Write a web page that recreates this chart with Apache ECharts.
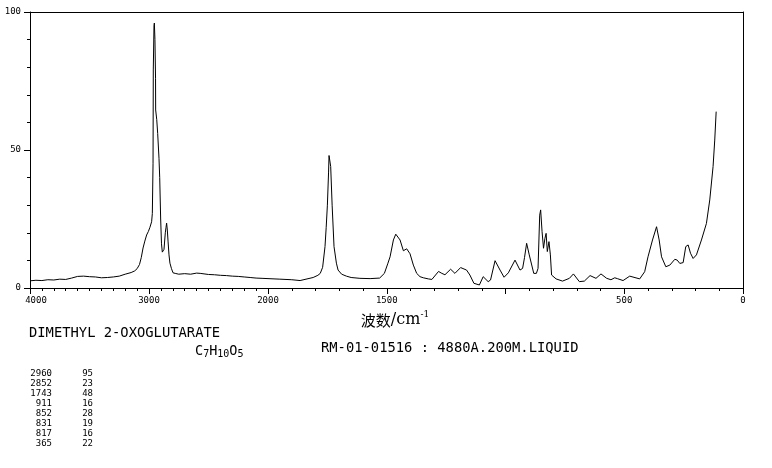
<!DOCTYPE html>
<html>
<head>
<meta charset="utf-8">
<script src="https://cdn.jsdelivr.net/npm/echarts@6/dist/echarts.min.js"></script>
<style>
html,body{margin:0;padding:0;background:#fff;}
#chart{width:772px;height:468px;}
</style>
</head>
<body>
<div id="chart"></div>
<script>
// ---- data ----
const wavenumbers = [
  4000,3950,3900,3850,3800,3750,3700,3650,3600,3550,3500,3450,3400,3350,3300,3250,3200,3150,3120,3100,
  3080,3065,3050,3035,3020,3005,2992,2978,2972,2966,2964,2958,2955,2950,2945,2944,2935,2927,2916,2910,
  2902,2895,2888,2882,2874,2863,2857,2852,2846,2840,2832,2824,2811,2798,2780,2750,2700,2650,2600,2570,
  2500,2450,2400,2350,2300,2250,2200,2150,2100,2050,2000,
  1950,1900,1865,1840,1810,1790,1780,1770,1760,1755,1750,1745,1743,1740,1736,1730,1722,1712,1705,1690,
  1670,1650,1613,1570,1530,1510,1495,1486,1472,1462,1458,1444,1430,1416,1402,1388,1374,1360,1346,1325,
  1310,1282,1268,1255,1231,1213,1189,1164,1150,1133,1110,1094,1073,1063,1044,1023,1006,988,960,939,
  928,920,911,900,895,881,870,863,856,852,846,840,834,829,824,817,811,806,787,760,
  731,714,689,668,644,619,598,574,556,540,529,505,477,435,414,400,381,364,353,343,
  325,308,287,277,266,252,241,231,221,210,196,175,154,140,126,119,113
];
const intensities = [
  2.6,2.8,2.7,3.0,2.9,3.2,3.1,3.6,4.2,4.3,4.1,4.0,3.7,3.8,4.0,4.3,5.0,5.6,6.2,7.0,
  8.5,11,14.5,17,19.2,20.5,22,24,27,45,79,95,96,90,76,64.5,61,56,47,40,
  25,16,13,12.5,14,20,22,23.5,21,17,12,9,7,5.5,5.3,5.0,5.2,5.0,5.4,5.3,
  4.9,4.8,4.6,4.5,4.3,4.2,4.0,3.8,3.6,3.5,3.4,
  3.2,3.0,2.7,3.2,3.8,4.6,5.3,7.5,15,22,30,42,48,48,44,30,15,9,6.5,5.0,
  4.3,3.8,3.5,3.4,3.6,5.3,9,11.3,17.4,19.5,19.2,17.4,13.5,14.2,12.4,8.3,5.3,4.1,3.7,3.3,
  3.1,6.0,5.3,4.8,6.8,5.3,7.4,6.5,4.7,1.7,1.1,4.1,2.3,2.9,9.9,6.5,3.9,5.5,10.1,6.5,
  7.1,11,16.2,12,11.5,5.3,5.3,7.1,26.4,28.3,20.4,14.4,18,19.8,13.2,16.8,12,4.7,3.3,2.5,
  3.5,5.1,2.3,2.5,4.5,3.5,5.1,3.5,3.0,3.7,3.4,2.7,4.3,3.3,5.9,11.3,17.4,22.2,17.4,11.3,
  7.7,8.3,10.4,10.1,8.9,9.2,15,15.6,12.6,10.7,12,17.4,23.4,31.9,44,53.6,63.9
];
const xLabelsHigh = [4000, 3000];
const xLabelsLow = [2000, 1500, 500, 0];
const yLabels = [0, 50, 100];
const compoundName = 'DIMETHYL 2-OXOGLUTARATE';
const sampleInfo = 'RM-01-01516 : 4880A.200M.LIQUID';
const peakWavenumbers = ['2960','2852','1743','911','852','831','817','365'];
const peakIntensities = ['95','23','48','16','28','19','16','22'];

// ---- build series ----
const pairs = wavenumbers.map((w, i) => [w, intensities[i]]);
const highPart = pairs.filter(p => p[0] >= 2000);
const lowPart = pairs.filter(p => p[0] <= 2000);

const labelFont = {fontFamily: 'DejaVu Sans Mono', fontSize: 9, color: '#000'};
const lineStyle = {color: '#000', width: 1};

function xAxisCfg(gridIndex, min, max, interval, minorSplit, labels) {
  return {
    type: 'value', gridIndex, min, max, interval, inverse: true, position: 'bottom',
    axisLine: {show: true, onZero: false, lineStyle},
    axisTick: {show: true, length: 6, lineStyle},
    minorTick: {show: true, splitNumber: minorSplit, length: 3, lineStyle},
    splitLine: {show: false},
    axisLabel: Object.assign({margin: 8, showMinLabel: true, showMaxLabel: true,
      formatter: v => {
        if (!labels.includes(v)) return '';
        return v === 4000 ? '{f|' + v + '}' : String(v);
      },
      rich: {f: {fontFamily: 'DejaVu Sans Mono', fontSize: 9, color: '#000', padding: [0, 0, 0, 12]}}
    }, labelFont)
  };
}
function topLine(gridIndex) {
  return {
    type: 'value', gridIndex, position: 'top', min: 0, max: 1,
    axisLine: {show: true, onZero: false, lineStyle},
    axisTick: {show: false}, axisLabel: {show: false}, splitLine: {show: false}
  };
}

const chart = echarts.init(document.getElementById('chart'), null, {renderer: 'canvas'});

const peakTexts = [];
peakWavenumbers.forEach((w, i) => {
  peakTexts.push({type: 'text', x: 52, y: 374 + i * 9.9,
    style: {text: w, font: '9px "DejaVu Sans Mono"', fill: '#000', align: 'right', verticalAlign: 'middle'}});
  peakTexts.push({type: 'text', x: 93, y: 374 + i * 9.9,
    style: {text: peakIntensities[i], font: '9px "DejaVu Sans Mono"', fill: '#000', align: 'right', verticalAlign: 'middle'}});
});

chart.setOption({
  animation: false,
  backgroundColor: '#fff',
  grid: [
    {left: 30, top: 12, width: 238, height: 276, containLabel: false},
    {left: 268, top: 12, width: 475, height: 276, containLabel: false}
  ],
  xAxis: [
    xAxisCfg(0, 2000, 4000, 1000, 10, xLabelsHigh),
    xAxisCfg(1, 0, 2000, 500, 5, xLabelsLow),
    topLine(0),
    topLine(1)
  ],
  yAxis: [
    {
      type: 'value', gridIndex: 0, min: 0, max: 100, interval: 50, position: 'left',
      axisLine: {show: true, onZero: false, lineStyle},
      axisTick: {show: true, length: 6, lineStyle},
      minorTick: {show: true, splitNumber: 5, length: 3, lineStyle},
      splitLine: {show: false},
      axisLabel: Object.assign({margin: 9, formatter: v => yLabels.includes(v) ? String(v) : ''}, labelFont)
    },
    {
      type: 'value', gridIndex: 1, min: 0, max: 100, position: 'right',
      axisLine: {show: true, onZero: false, lineStyle},
      axisTick: {show: false}, axisLabel: {show: false}, splitLine: {show: false}
    }
  ],
  series: [
    {type: 'line', xAxisIndex: 0, yAxisIndex: 0, data: highPart, showSymbol: false, symbol: 'none',
     lineStyle: {color: '#000', width: 1}, silent: true},
    {type: 'line', xAxisIndex: 1, yAxisIndex: 1, data: lowPart, showSymbol: false, symbol: 'none',
     lineStyle: {color: '#000', width: 1}, silent: true}
  ],
  graphic: [
    {type: 'text', x: 395, y: 320,
     style: {
       text: '{a|波数}{b|/cm}{s|-1}',
       align: 'center', verticalAlign: 'middle',
       rich: {
         a: {fontFamily: 'Noto Sans CJK SC', fontSize: 15, fill: '#000', color: '#000'},
         b: {fontFamily: 'DejaVu Serif', fontSize: 16, fill: '#000', color: '#000'},
         s: {fontFamily: 'DejaVu Serif', fontSize: 9, fill: '#000', color: '#000', verticalAlign: 'top', padding: [0, 0, 10, 0]}
       }
     }},
    {type: 'text', x: 29, y: 333,
     style: {text: compoundName, font: '13.8px "DejaVu Sans Mono"', fill: '#000', verticalAlign: 'middle'}},
    {type: 'text', x: 195, y: 351,
     style: {
       text: '{m|C}{s|7}{m|H}{s|10}{m|O}{s|5}', verticalAlign: 'middle',
       rich: {
         m: {fontFamily: 'DejaVu Sans Mono', fontSize: 13.5, fill: '#000', color: '#000'},
         s: {fontFamily: 'DejaVu Sans Mono', fontSize: 10, fill: '#000', color: '#000', padding: [6, 0, 0, 0]}
       }
     }},
    {type: 'text', x: 321, y: 348,
     style: {text: sampleInfo, font: '13.8px "DejaVu Sans Mono"', fill: '#000', verticalAlign: 'middle'}}
  ].concat(peakTexts)
});
</script>
</body>
</html>
